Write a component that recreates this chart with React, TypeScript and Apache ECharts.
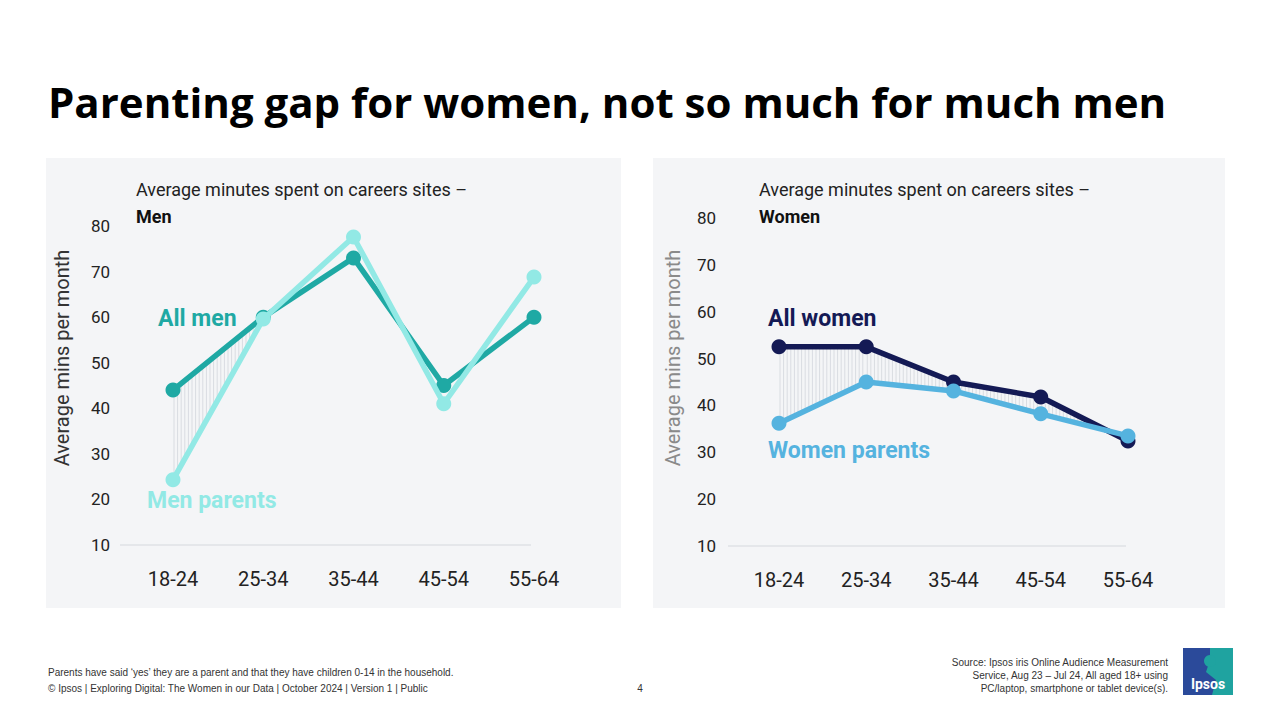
import React, { useEffect, useRef } from "react";
import * as echarts from "echarts";

const ageGroups = ["18-24", "25-34", "35-44", "45-54", "55-64"];
const allMen = [44, 60, 73, 45, 60];
const menParents = [24.3, 59.6, 77.6, 41, 68.8];
const allWomen = [52.5, 52.5, 45, 41.8, 32.4];
const womenParents = [36.2, 45, 43.1, 38.2, 33.5];
const hatchSegmentsMen = [0];
const hatchSegmentsWomen = [0, 1, 2, 3];
const yTicksMin = 10;
const yTicksMax = 80;
const yTickStep = 10;

const FONT = "Roboto, 'Noto Sans', sans-serif";
const TITLE_FONT = "'Open Sans', Roboto, sans-serif";
const NARROW = "'Liberation Sans Narrow', 'Liberation Sans', Arial, sans-serif";

function hatchRender(upper: number[], lower: number[], segments: number[]) {
  return (params: any, api: any) => {
    const i = segments[params.dataIndex];
    const a0 = api.coord([i, upper[i]]);
    const a1 = api.coord([i + 1, upper[i + 1]]);
    const b0 = api.coord([i, lower[i]]);
    const b1 = api.coord([i + 1, lower[i + 1]]);
    const children: any[] = [];
    const step = 3.6;
    for (let x = a0[0] + 1; x < a1[0]; x += step) {
      const t = (x - a0[0]) / (a1[0] - a0[0]);
      const yu = a0[1] + (a1[1] - a0[1]) * t;
      const yl = b0[1] + (b1[1] - b0[1]) * t;
      if (yl - yu > 1) {
        children.push({
          type: "line",
          shape: { x1: x, y1: yu, x2: x, y2: yl },
          style: { stroke: "#d9dce1", lineWidth: 1 },
        });
      }
    }
    return { type: "group", children };
  };
}

export default function App() {
  const ref = useRef<HTMLDivElement>(null);
  useEffect(() => {
    if (!ref.current) return;
    const chart = echarts.init(ref.current, null, { renderer: "svg" });

    const xAxisBase = (gridIndex: number) => ({
      type: "category",
      gridIndex,
      data: ageGroups,
      boundaryGap: false,
      axisLine: { show: false },
      axisTick: { show: false },
      axisLabel: { fontSize: 20, color: "#222", fontFamily: FONT, margin: 24 },
    });
    const yAxisBase = (gridIndex: number) => ({
      type: "value",
      gridIndex,
      min: yTicksMin,
      max: yTicksMax,
      interval: yTickStep,
      splitLine: { show: false },
      axisLine: { show: false },
      axisTick: { show: false },
      axisLabel: { fontSize: 17, color: "#222", fontFamily: FONT, margin: 63 },
    });

    const lineSeries = (name: string, data: number[], color: string, idx: number, z: number) => ({
      type: "line",
      name,
      data,
      xAxisIndex: idx,
      yAxisIndex: idx,
      symbol: "circle",
      symbolSize: 15,
      lineStyle: { color, width: 5.5 },
      itemStyle: { color },
      z,
    });

    chart.setOption({
      animation: false,
      backgroundColor: "#ffffff",
      grid: [
        { left: 173, right: 1280 - 534, top: 226, bottom: 720 - 545 },
        { left: 779, right: 1280 - 1128, top: 218, bottom: 720 - 546 },
      ],
      xAxis: [xAxisBase(0), xAxisBase(1)],
      yAxis: [yAxisBase(0), yAxisBase(1)],
      series: [
        {
          type: "custom",
          xAxisIndex: 0,
          yAxisIndex: 0,
          data: hatchSegmentsMen.map((s) => [s]),
          renderItem: hatchRender(allMen, menParents, hatchSegmentsMen),
          z: 1,
          silent: true,
        },
        {
          type: "custom",
          xAxisIndex: 1,
          yAxisIndex: 1,
          data: hatchSegmentsWomen.map((s) => [s]),
          renderItem: hatchRender(allWomen, womenParents, hatchSegmentsWomen),
          z: 1,
          silent: true,
        },
        lineSeries("All men", allMen, "#1fa9a4", 0, 3),
        lineSeries("Men parents", menParents, "#92e9e5", 0, 4),
        lineSeries("All women", allWomen, "#141a55", 1, 3),
        lineSeries("Women parents", womenParents, "#55b3df", 1, 4),
      ],
      graphic: [
        { type: "rect", z: -10, shape: { x: 46, y: 158, width: 575, height: 450 }, style: { fill: "#f4f5f7" } },
        { type: "rect", z: -10, shape: { x: 653, y: 158, width: 572, height: 450 }, style: { fill: "#f4f5f7" } },
        { type: "line", z: -5, shape: { x1: 120, y1: 545, x2: 531, y2: 545 }, style: { stroke: "#d5d8dd", lineWidth: 1 } },
        { type: "line", z: -5, shape: { x1: 728, y1: 546, x2: 1126, y2: 546 }, style: { stroke: "#d5d8dd", lineWidth: 1 } },
        {
          type: "text", x: 48, y: 101,
          style: { text: "Parenting gap for women, not so much for much men", fontSize: 42, fontWeight: "bold", fontFamily: TITLE_FONT, fill: "#000", textVerticalAlign: "middle" },
        },
        {
          type: "text", x: 136, y: 189,
          style: { text: "Average minutes spent on careers sites –", fontSize: 18, fontFamily: FONT, fill: "#222", textVerticalAlign: "middle" },
        },
        {
          type: "text", x: 136, y: 216,
          style: { text: "Men", fontSize: 18, fontWeight: "bold", fontFamily: FONT, fill: "#111", textVerticalAlign: "middle" },
        },
        {
          type: "text", x: 759, y: 189,
          style: { text: "Average minutes spent on careers sites –", fontSize: 18, fontFamily: FONT, fill: "#222", textVerticalAlign: "middle" },
        },
        {
          type: "text", x: 759, y: 216,
          style: { text: "Women", fontSize: 18, fontWeight: "bold", fontFamily: FONT, fill: "#111", textVerticalAlign: "middle" },
        },
        {
          type: "text", x: 62, y: 358, rotation: Math.PI / 2,
          style: { text: "Average mins per month", fontSize: 20, fontFamily: FONT, fill: "#333", textAlign: "center", textVerticalAlign: "middle" },
        },
        {
          type: "text", x: 673, y: 358, rotation: Math.PI / 2,
          style: { text: "Average mins per month", fontSize: 20, fontFamily: FONT, fill: "#8a8a8a", textAlign: "center", textVerticalAlign: "middle" },
        },
        {
          type: "text", x: 158, y: 318, z: 10,
          style: { text: "All men", fontSize: 23, fontWeight: "bold", fontFamily: FONT, fill: "#1fa9a4", textVerticalAlign: "middle" },
        },
        {
          type: "text", x: 147, y: 500, z: 10,
          style: { text: "Men parents", fontSize: 23, fontWeight: "bold", fontFamily: FONT, fill: "#92e9e5", textVerticalAlign: "middle" },
        },
        {
          type: "text", x: 768, y: 318, z: 10,
          style: { text: "All women", fontSize: 23, fontWeight: "bold", fontFamily: FONT, fill: "#141a55", textVerticalAlign: "middle" },
        },
        {
          type: "text", x: 768, y: 450, z: 10,
          style: { text: "Women parents", fontSize: 23, fontWeight: "bold", fontFamily: FONT, fill: "#55b3df", textVerticalAlign: "middle" },
        },
        {
          type: "text", x: 48, y: 672,
          style: { text: "Parents have said ‘yes’ they are a parent and that they have children 0-14 in the household.", fontSize: 10, fontFamily: NARROW, fill: "#333", textVerticalAlign: "middle" },
        },
        {
          type: "text", x: 48, y: 688,
          style: { text: "© Ipsos | Exploring Digital: The Women in our Data | October 2024 | Version 1 | Public", fontSize: 10, fontFamily: NARROW, fill: "#333", textVerticalAlign: "middle" },
        },
        {
          type: "text", x: 640, y: 688,
          style: { text: "4", fontSize: 10, fontFamily: NARROW, fill: "#333", textAlign: "center", textVerticalAlign: "middle" },
        },
        {
          type: "text", x: 1168, y: 675,
          style: {
            text: "Source: Ipsos iris Online Audience Measurement\nService, Aug 23 – Jul 24, All aged 18+ using\nPC/laptop, smartphone or tablet device(s).",
            fontSize: 10, lineHeight: 13, fontFamily: NARROW, fill: "#333", textAlign: "right", textVerticalAlign: "middle",
          },
        },
        { type: "rect", shape: { x: 1183, y: 648, width: 50, height: 47 }, style: { fill: "#2b4a9a" } },
        { type: "polygon", shape: { points: [[1210, 648], [1233, 648], [1233, 695], [1212, 695], [1216, 680], [1206, 672], [1210, 660]] }, style: { fill: "#1fa3a0" } },
        { type: "circle", shape: { cx: 1210, cy: 661, r: 6 }, style: { fill: "#1fa3a0" } },
        {
          type: "text", x: 1208, y: 684,
          style: { text: "Ipsos", fontSize: 14, fontWeight: "bold", fontFamily: FONT, fill: "#fff", textAlign: "center", textVerticalAlign: "middle" },
        },
      ],
    });
    return () => chart.dispose();
  }, []);
  return <div ref={ref} style={{ position: "fixed", left: 0, top: 0, width: 1280, height: 720 }} />;
}
